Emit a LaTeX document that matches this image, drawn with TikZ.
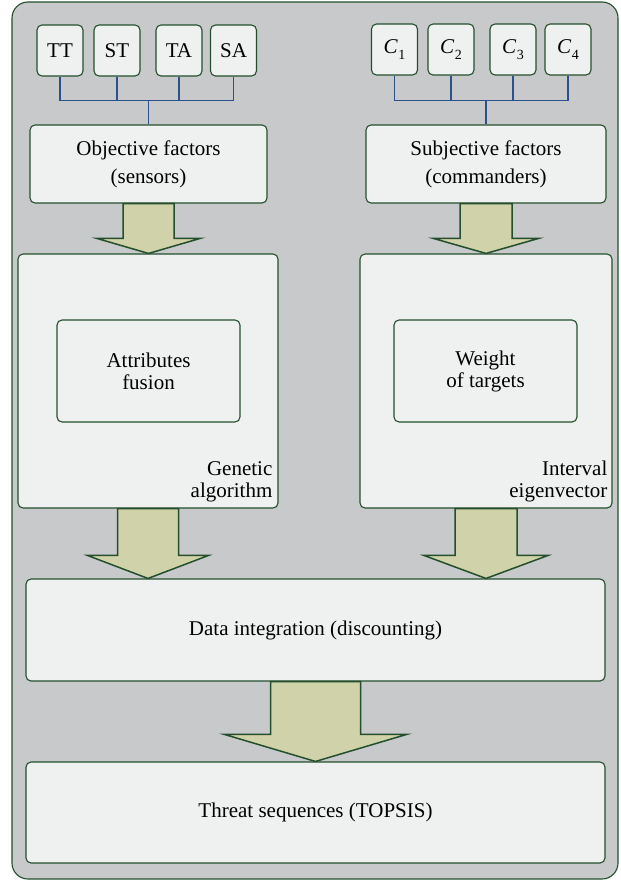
\documentclass[tikz,border=0pt]{standalone}
\usepackage{fontspec}
\setmainfont{Liberation Serif}
\usetikzlibrary{calc}
\definecolor{bggray}{HTML}{C8C9CB}
\definecolor{boxfill}{HTML}{EFF0F0}
\definecolor{border}{HTML}{234F2C}
\definecolor{arrfill}{HTML}{D0D2A9}
\definecolor{treeblue}{HTML}{2B4F8F}
\newcommand\Csub[1]{\textit{C}\kern0.5pt\raisebox{-0.28em}{\fontsize{14}{14}\selectfont #1}}
\newcommand\fatarrow[5]{%
  \path[fatarr] let \p1=(#1.south), \p2=(#2.north) in
    (\x1-#3pt,\y1) -- (\x1-#3pt,\y2+#5pt) -- (\x1-#4pt,\y2+#5pt) -- (\x1,\y2)
    -- (\x1+#4pt,\y2+#5pt) -- (\x1+#3pt,\y2+#5pt) -- (\x1+#3pt,\y1) -- cycle;}
\begin{document}
\begin{tikzpicture}[x=1pt,y=-1pt,
  txt/.style={font=\rmfamily\fontsize{21}{#1}\selectfont},
  txt/.default=22,
  every node/.style={txt, text=black},
  box/.style={draw=border, fill=boxfill, line width=1.1pt, rounded corners=5pt, inner sep=0pt, align=center},
  small/.style={box, minimum width=46pt, minimum height=51pt},
  tree/.style={draw=treeblue, line width=1.2pt},
  fatarr/.style={draw=border, fill=arrfill, line width=1.5pt, line join=miter},
  lbl/.style={inner sep=0pt, align=right, anchor=south east}
]
\useasboundingbox (0,0) rectangle (621,881);
% outer frame
\path[draw=border, fill=bggray, line width=1.1pt, rounded corners=16pt] (12,2) rectangle (618,879);

% small boxes
\node[small] (TT) at (60,50.5) {TT};
\node[small] (ST) at (117,50.5) {ST};
\node[small] (TA) at (179,50.5) {TA};
\node[small] (SA) at (233.5,50.5) {SA};
\node[small] (C1) at (394.5,49.5) {\Csub{1}};
\node[small] (C2) at (451,49.5) {\Csub{2}};
\node[small] (C3) at (513,49.5) {\Csub{3}};
\node[small] (C4) at (568,49.5) {\Csub{4}};

% factor boxes
\node[box, minimum width=237pt, minimum height=78pt, txt=28] (obj) at (148.5,164) {Objective factors\\(sensors)};
\node[box, minimum width=240pt, minimum height=78pt, txt=28] (subj) at (486,164) {Subjective factors\\(commanders)};

% tree connectors
\coordinate (hubL) at ($(obj.north)+(0,-24)$);
\coordinate (hubR) at ($(subj.north)+(0,-24)$);
\foreach \n in {TT,ST,TA,SA} \draw[tree] (\n.south) |- (hubL);
\draw[tree] (hubL) -- (obj.north);
\foreach \n in {C1,C2,C3,C4} \draw[tree] (\n.south) |- (hubR);
\draw[tree] (hubR) -- (subj.north);

% big boxes
\node[box, minimum width=260pt, minimum height=254pt] (bigL) at (148,381) {};
\node[box, minimum width=252pt, minimum height=254pt] (bigR) at (486,381) {};
\node[box, minimum width=183pt, minimum height=102pt, txt=22] (attr) at (148.5,371) {Attributes\\fusion};
\node[box, minimum width=183pt, minimum height=102pt, txt=22] (wgt) at (485.5,371) {Weight\\of targets};
\node[lbl, txt=22] (gen) at ($(bigL.south east)+(-6,-6)$) {Genetic\\algorithm};
\node[lbl, txt=22] (intv) at ($(bigR.south east)+(-5,-6)$) {Interval\\eigenvector};

% bottom boxes
\node[box, minimum width=579pt, minimum height=102pt] (data) at (315.5,630) {Data integration (discounting)};
\node[box, minimum width=579pt, minimum height=101pt] (threat) at (315.5,812.5) {Threat sequences (TOPSIS)};

% fat arrows
\fatarrow{obj}{bigL}{25.5}{51.5}{15}
\fatarrow{subj}{bigR}{26}{52.5}{15}
\fatarrow{bigL}{data}{30.5}{60.5}{23}
\fatarrow{bigR}{data}{31}{62}{23}
\fatarrow{data}{threat}{45}{91}{27}
\end{tikzpicture}
\end{document}
